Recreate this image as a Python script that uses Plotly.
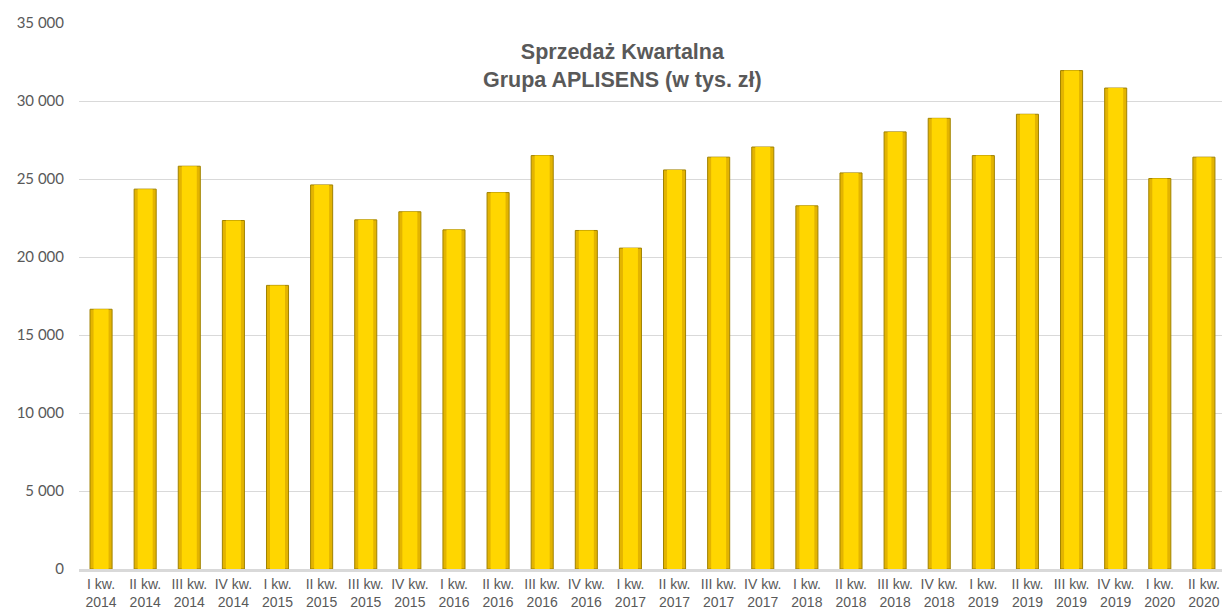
import plotly.graph_objects as go

quarters = ["I kw.", "II kw.", "III kw.", "IV kw."]
years = [2014, 2015, 2016, 2017, 2018, 2019, 2020]
categories = [f"{q}<br>{y}" for y in years for q in quarters][:26]

sales = [16650, 24350, 25820, 22340, 18180, 24620, 22380, 22900,
         21740, 24130, 26500, 21700, 20570, 25580, 26400, 27050,
         23280, 25390, 28020, 28890, 26500, 29150, 31950, 30830,
         25030, 26400]

y_ticks = [0, 5000, 10000, 15000, 20000, 25000, 30000, 35000]
y_tick_labels = ["0", "5 000", "10 000", "15 000", "20 000", "25 000", "30 000", "35 000"]

x_idx = list(range(len(categories)))

fig = go.Figure()
fig.add_trace(go.Bar(
    x=x_idx, y=sales, width=0.5,
    marker=dict(color="#E3B400", line=dict(color="#A08200", width=1)),
    hoverinfo="skip", showlegend=False,
))
fig.add_trace(go.Bar(
    x=x_idx, y=sales, width=0.34,
    marker=dict(color="#FFD600", line=dict(width=0)),
    hoverinfo="skip", showlegend=False,
))

fig.update_layout(
    width=1222, height=610,
    barmode="overlay",
    plot_bgcolor="white", paper_bgcolor="white",
    margin=dict(l=79, r=0, t=23, b=41),
    font=dict(family="Liberation Sans, Arial, sans-serif", color="#595959"),
    annotations=[dict(
        text="<b>Sprzedaż Kwartalna<br>Grupa APLISENS (w tys. zł)</b>",
        xref="x", yref="y", x=11.82, y=(569 - 66) / 546 * 35000,
        showarrow=False, font=dict(size=21.5, color="#595959"),
    )],
)

fig.update_xaxes(
    range=[-0.5, 25.41],
    tickmode="array", tickvals=x_idx, ticktext=categories,
    tickangle=0, tickfont=dict(size=14, color="#595959"),
    showgrid=False, showline=True, linecolor="#D9D9D9", linewidth=3,
    ticks="", zeroline=False, automargin=False,
)
fig.update_yaxes(
    range=[0, 35000],
    tickmode="array", tickvals=y_ticks, ticktext=y_tick_labels,
    tickfont=dict(size=15, color="#595959", family="Lato, Liberation Sans, sans-serif"),
    showgrid=True, gridcolor="#D9D9D9", gridwidth=1,
    zeroline=False, showline=False, ticks="", ticklabelstandoff=14,
)

fig.write_html(
    "out.html",
    config={"displayModeBar": False},
    post_script="document.body.style.margin='0';document.body.style.overflow='hidden';",
)
